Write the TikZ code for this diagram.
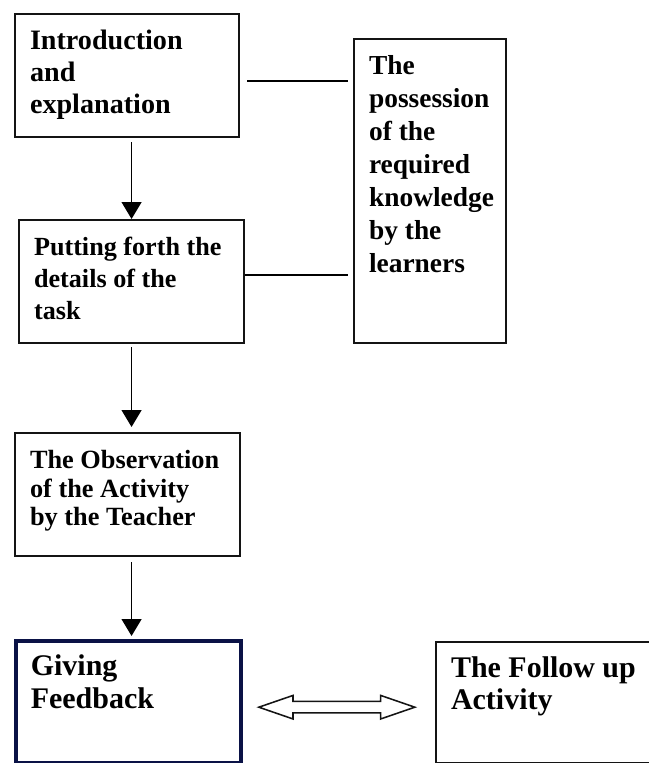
\documentclass[tikz,border=0pt]{standalone}
\usepackage{fontspec}
\setmainfont{Liberation Serif}
\usepackage{tikz}
\usetikzlibrary{
    positioning,
    arrows.meta,
    shapes.arrows,
    calc
}
\definecolor{FrameBlack}{RGB}{20,20,20}
\definecolor{FeedNavy}{RGB}{10,18,70}
\newlength{\pxu}
\setlength{\pxu}{0.025cm}

\begin{document}
\begin{tikzpicture}[
                    x=0.025cm, y=-0.025cm,
                    every node/.style={inner sep=1pt},
                    stepbox/.style={draw=FrameBlack, line width=1.5pt, anchor=north west,
                        inner xsep=15\pxu, inner ysep=0pt},
                    flow/.style={line width=1.3pt, -{Triangle[width=14pt,length=12pt]}},
                    link/.style={line width=1.3pt},
                ]
                  \def\boxtxt#1#2#3{\parbox[t][#2\pxu][t]{\dimexpr#1\pxu-30\pxu\relax}{\raggedright\rule{0pt}{35\pxu}#3}}

                  \useasboundingbox (0,0) rectangle (649,763);

                  % ---- main column ----
                  \node[stepbox, font=\bfseries\fontsize{20}{22.8}\selectfont] (intro) at (14,13)
                    {\boxtxt{224}{123}{Introduction\\and\\explanation}};
                  \node[stepbox, font=\bfseries\fontsize{18.6}{23}\selectfont] (task) at (18,219)
                    {\boxtxt{225}{123}{Putting forth the\\details of the\\task}};
                  \node[stepbox, font=\bfseries\fontsize{18.7}{20.6}\selectfont] (observe) at (14,432)
                    {\boxtxt{225}{123}{The Observation\\of the Activity\\by the Teacher}};
                  \node[stepbox, draw=FeedNavy, line width=2.6pt, font=\bfseries\fontsize{21.3}{23.2}\selectfont] (feedback) at (14,639)
                    {\boxtxt{225}{122}{Giving\\Feedback}};

                  % ---- side boxes ----
                  \node[stepbox, font=\bfseries\fontsize{19.5}{23.5}\selectfont] (know) at (353,38)
                    {\boxtxt{152}{304}{The\\possession\\of the\\required\\knowledge\\by the\\learners}};
                  \node[stepbox, font=\bfseries\fontsize{21.3}{23.2}\selectfont] (followup) at (435,641)
                    {\boxtxt{230}{121}{The Follow up\\Activity}};

                  % ---- arrows down the column ----
                  \draw[flow, shorten <=4\pxu] (intro.south -| task.north) -- (task.north);
                  \draw[flow, shorten <=3\pxu, shorten >=5\pxu] (task.south) -- (task.south |- observe.north);
                  \draw[flow, shorten <=5\pxu, shorten >=3\pxu] (task.south |- observe.south) -- (task.south |- feedback.north);

                  % ---- links to the knowledge box ----
                  \coordinate (introlink) at ([yshift=-5.5\pxu]intro.east);
                  \coordinate (tasklink) at ([yshift=6.5\pxu]task.east);
                  \draw[link, shorten <=7\pxu, shorten >=5\pxu] (introlink) -- (introlink -| know.west);
                  \draw[link, shorten >=5\pxu] (tasklink) -- (tasklink -| know.west);

                  % ---- two-way arrow ----
                  \node[double arrow, draw=FrameBlack, line width=1.1pt,
                        double arrow tip angle=38, double arrow head extend=6\pxu,
                        minimum height=156\pxu, minimum width=22\pxu,
                        inner xsep=0pt, inner ysep=5\pxu] (swap)
                    at ($(feedback.east)!0.5!(followup.west)+(-2,5)$) {};
                \end{tikzpicture}
\end{document}
